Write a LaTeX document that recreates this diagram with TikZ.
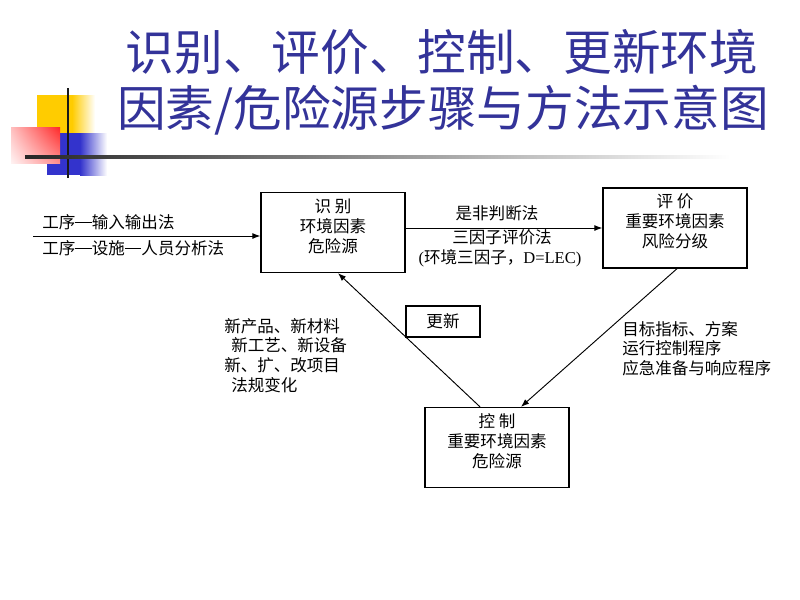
\documentclass[tikz,border=0pt]{standalone}
\usepackage{fontspec}
\setmainfont{Noto Sans CJK SC}
\newfontfamily\tnr{Liberation Serif}
\usetikzlibrary{arrows.meta,calc,shadings}
\definecolor{titleblue}{RGB}{51,51,153}
\definecolor{decoyellow}{RGB}{255,204,0}
\definecolor{decoblue}{RGB}{51,51,204}
\definecolor{decored}{RGB}{255,40,40}
\newcommand\mydash{\rule[0.33em]{1em}{0.07em}}
\begin{document}
\begin{tikzpicture}[x=0.75pt,y=-0.75pt,
  titletxt/.style={text=titleblue,font=\fontsize{36.5pt}{40pt}\selectfont,inner sep=0pt},
  body/.style={font=\fontsize{12.4pt}{14.7pt}\selectfont,inner sep=0pt,align=left},
  boxtxt/.style={font=\fontsize{12.4pt}{15pt}\selectfont,inner sep=0pt,align=center},
  bigbox/.style={draw,line width=1pt,minimum width=108pt,minimum height=60pt,inner sep=0pt},
  arr/.style={draw,line width=0.7pt,-{Latex[length=6pt,width=4.5pt]}}]
\useasboundingbox[fill=white] (0,0) rectangle (800,600);
% decoration
\fill[decoyellow] (37,95) rectangle (72,133);
\shade[left color=decoyellow,right color=white] (72,95) rectangle (95,133);
\fill[decoblue] (47,133) rectangle (80,175);
\shade[left color=decoblue,right color=white] (80,133) rectangle (107,175);
\shade[upper left=red!25,upper right=decored,lower left=red!5,lower right=red!45] (11,127) rectangle (60,163);
\draw[line width=1.5pt,black!90] (68,88) -- (68,178);
\shade[left color=black!85,right color=white] (25,155.5) rectangle (730,158.5);
% title
\node[titletxt] (t1) at (442,52) {识别、评价、控制、更新环境};
\node[titletxt] (t2) at (443,110) {因素/危险源步骤与方法示意图};
% boxes
\node[bigbox] (shibie) at (333,232.5) {};
\node[boxtxt] (shibieT) at (333,226) {识 别\\环境因素\\危险源};
\node[bigbox] (pingjia) at (675,228) {};
\node[boxtxt] (pingjiaT) at (675,221) {评 价\\重要环境因素\\风险分级};
\node[bigbox] (kongzhi) at (497,447.5) {};
\node[boxtxt] (kongzhiT) at (497,441) {控 制\\重要环境因素\\危险源};
\node[draw,line width=1pt,minimum width=55.5pt,minimum height=23.25pt,inner sep=0pt,font=\fontsize{12.4pt}{15pt}\selectfont] (gengxin) at (443,321.5) {更新};
% arrows
\coordinate (inS) at (33,236);
\draw[arr] (inS) -- (inS -| shibie.west);
\coordinate (m) at (500,228);
\draw[arr] (m -| shibie.east) -- (m -| pingjia.west);
\draw[arr] ([xshift=1.5pt]pingjia.south) -- ([xshift=18pt]kongzhi.north);
\draw[arr] ([xshift=-12.75pt]kongzhi.north) -- ([xshift=3.75pt]shibie.south);
% labels
\node[body,anchor=west] (l1) at (42,222) {工序\mydash 输入输出法};
\node[body,anchor=west] (l2) at (42,248) {工序\mydash 设施\mydash 人员分析法};
\node[body] (m1) at (497,213) {是非判断法};
\node[body] (m2) at (502,237) {三因子评价法};
\node[body] (m3) at (500,258) {{\tnr(}环境三因子，{\tnr D=LEC)}};
\node[body,anchor=west] (n1) at (224,326) {新产品、新材料};
\node[body,anchor=west] (n2) at (231,345) {新工艺、新设备};
\node[body,anchor=west] (n3) at (224,365) {新、扩、改项目};
\node[body,anchor=west] (n4) at (231,385) {法规变化};
\node[body,anchor=west] (r1) at (622,329) {目标指标、方案};
\node[body,anchor=west] (r2) at (622,348) {运行控制程序};
\node[body,anchor=west] (r3) at (622,368) {应急准备与响应程序};
\end{tikzpicture}
\end{document}
